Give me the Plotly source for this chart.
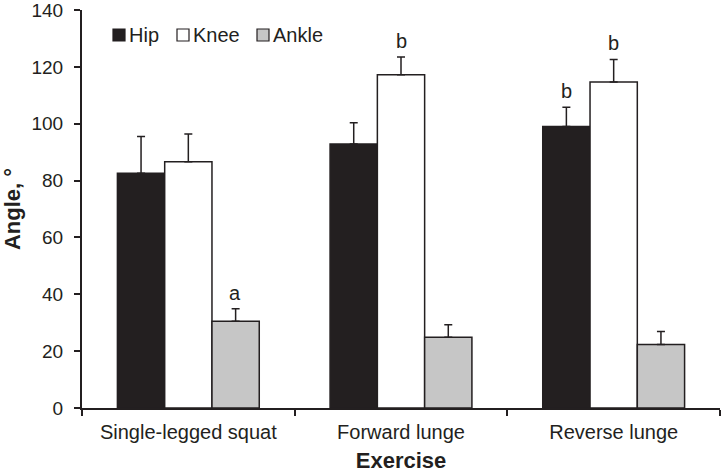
import plotly.graph_objects as go

exercises = ["Single-legged squat", "Forward lunge", "Reverse lunge"]
hip = [82.6, 92.9, 99.0]
hip_sd = [12.9, 7.4, 6.8]
knee = [86.6, 117.2, 114.7]
knee_sd = [9.8, 6.3, 7.9]
ankle = [30.5, 24.9, 22.3]
ankle_sd = [4.4, 4.4, 4.6]
y_ticks = [0, 20, 40, 60, 80, 100, 120, 140]

# significance letters: (series index, exercise index, letter)
letters = [(2, 0, "a"), (1, 1, "b"), (0, 2, "b"), (1, 2, "b")]

dark = "#231f20"
series = [("Hip", hip, hip_sd, dark), ("Knee", knee, knee_sd, "white"), ("Ankle", ankle, ankle_sd, "#c6c6c6")]

W, H = 722, 474
L, R, T, B = 82, 2, 10, 66
pw, ph = W - L - R, H - T - B

fig = go.Figure()
for name, vals, sd, col in series:
    fig.add_trace(go.Bar(
        name=name, x=exercises, y=vals, marker_color=col,
        marker_line=dict(color=dark, width=1.5),
        error_y=dict(type="data", array=sd, symmetric=False, arrayminus=[0] * 3,
                     color=dark, thickness=1.5, width=4),
    ))

offsets = [-47, 0, 47]
for s, e, txt in letters:
    vals, sd = series[s][1], series[s][2]
    fig.add_annotation(x=exercises[e], y=vals[e] + sd[e], text=txt, showarrow=False,
                       xshift=offsets[s], yanchor="bottom", yshift=3,
                       font=dict(size=20, color=dark))

# hand-made legend like the original (small square right next to the label)
leg_x = [113, 177, 257]
leg_y = 35
for (name, _, _, col), lx in zip(series, leg_x):
    x0 = (lx - L) / pw
    x1 = (lx + 12 - L) / pw
    y0 = (H - B - leg_y - 6) / ph
    y1 = (H - B - leg_y + 6) / ph
    fig.add_shape(type="rect", xref="paper", yref="paper", x0=x0, x1=x1, y0=y0, y1=y1,
                  fillcolor=col, line=dict(color=dark, width=1.2))
    fig.add_annotation(xref="paper", yref="paper", x=(lx + 14 - L) / pw, y=(H - B - leg_y) / ph,
                       text=name, showarrow=False, xanchor="left", yanchor="middle",
                       font=dict(size=20, color=dark))

fig.update_layout(
    width=W, height=H,
    margin=dict(l=L, r=R, t=T, b=B),
    plot_bgcolor="white", paper_bgcolor="white",
    font=dict(family="Liberation Sans, Arial, sans-serif", size=19, color=dark),
    barmode="group", bargap=0.333, bargroupgap=0,
    showlegend=False,
)
fig.update_xaxes(
    showline=True, linecolor=dark, linewidth=2, ticks="outside", ticklen=6,
    tickcolor=dark, tickwidth=2, tickson="boundaries", automargin=False,
    tickfont=dict(size=20), ticklabelstandoff=5,
    title=dict(text="<b>Exercise</b>", font=dict(size=22), standoff=11),
)
fig.update_yaxes(
    range=[0, 140], tickvals=y_ticks, showline=True, linecolor=dark, linewidth=2,
    ticks="outside", ticklen=6, tickcolor=dark, tickwidth=2, showgrid=False,
    zeroline=False, automargin=False, ticklabelstandoff=7, ticklabeloverflow="allow",
    title=dict(text="<b>Angle, °</b>", font=dict(size=22), standoff=7),
)

fig.write_html("out.html", config={"displayModeBar": False},
               post_script="document.body.style.margin='0';")
